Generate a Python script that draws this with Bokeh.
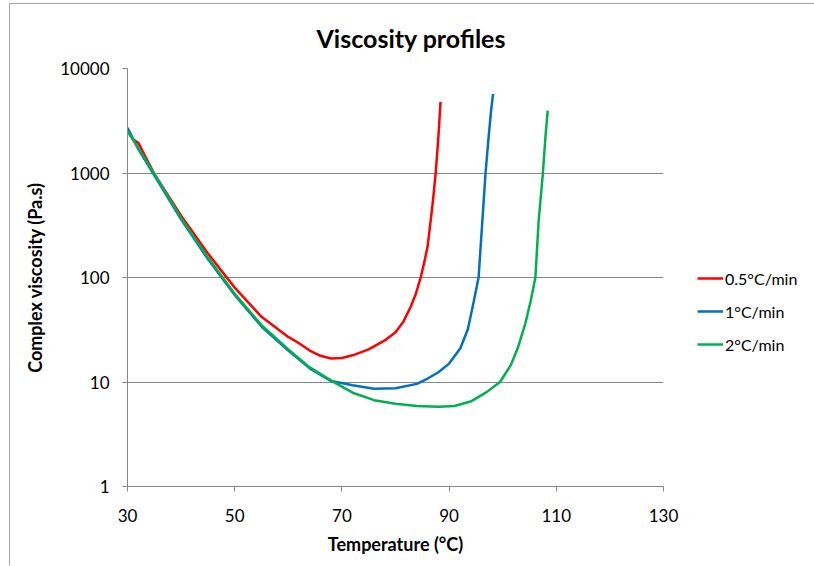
from bokeh.plotting import figure
from bokeh.models import FixedTicker, PrintfTickFormatter, Legend, LegendItem, Range1d
from bokeh.embed import file_html
from bokeh.resources import INLINE

# --- data ---
t_05 = [31, 32, 33, 35, 40, 45, 50, 55, 60, 62, 64, 66, 68, 70, 72, 75, 78, 80, 81.5, 82.8, 83.8, 84.7, 85.5, 86.0, 86.5, 87.0, 87.5, 88.0, 88.4]
v_05 = [2100, 1950, 1550, 980, 390, 170, 80, 42, 27, 23.5, 20, 17.8, 16.8, 17.0, 18.0, 20.5, 25, 30, 38, 52, 70, 100, 150, 200, 330, 550, 1000, 2200, 4800]

t_1 = [30, 32, 35, 40, 45, 50, 55, 60, 64, 68, 72, 76, 80, 84, 86, 88, 90, 92.1, 93.5, 94.6, 95.5, 96.2, 96.8, 97.3, 97.8, 98.2]
v_1 = [2700, 1700, 950, 360, 150, 68, 34, 20, 13.5, 10.2, 9.3, 8.6, 8.7, 9.6, 10.8, 12.4, 15, 21, 32, 59, 100, 345, 1000, 2000, 3800, 5700]

t_2 = [30, 32, 35, 40, 45, 50, 55, 60, 64, 68, 72, 76, 80, 84, 88, 91, 94, 97, 99.5, 101.5, 102.8, 104.2, 105.2, 106.1, 106.7, 107.5, 108.0, 108.4]
v_2 = [2500, 1750, 980, 370, 155, 70, 35, 20.5, 13.8, 10.3, 7.9, 6.7, 6.2, 5.9, 5.8, 5.9, 6.5, 8.0, 10, 14.5, 21, 36, 59, 100, 345, 1000, 2300, 3950]

series_names = ["0.5°C/min", "1°C/min", "2°C/min"]
series_colors = ["#FF0000", "#0070C0", "#00B050"]
x_ticks = [30, 50, 70, 90, 110, 130]
y_ticks = [1, 10, 100, 1000, 10000]

FONT = "Lato"

p = figure(frame_width=536, frame_height=418, y_axis_type="log",
           x_range=Range1d(30, 130), y_range=Range1d(1, 10000),
           output_backend="svg", toolbar_location=None,
           min_border_left=117, min_border_right=147,
           min_border_top=63, min_border_bottom=79)
p.styles = {"margin-left": "9px", "margin-top": "3px",
            "border-left": "1px solid #a6a6a6", "border-top": "1px solid #a6a6a6"}

p.title.text = "Viscosity profiles"
p.title.align = "left"
p.title.text_font = FONT
p.title.text_font_size = "25px"
p.title.text_font_style = "bold"
p.title.text_color = "#000000"
p.title.offset = 189
p.title.standoff = 32

p.outline_line_color = None
p.xgrid.grid_line_color = None
p.ygrid.grid_line_color = "#868686"
p.ygrid.grid_line_width = 1

p.xaxis.ticker = FixedTicker(ticks=x_ticks)
p.yaxis.ticker = FixedTicker(ticks=y_ticks)
p.yaxis.formatter = PrintfTickFormatter(format="%d")

for ax in (p.xaxis, p.yaxis):
    ax.axis_line_color = "#868686"
    ax.major_tick_line_color = "#868686"
    ax.minor_tick_line_color = None
    ax.major_tick_in = 0
    ax.major_tick_out = 5
    ax.major_label_text_font = FONT
    ax.major_label_text_font_size = "17px"
    ax.major_label_text_color = "#000000"
    ax.axis_label_text_font = FONT
    ax.axis_label_text_font_size = "18px"
    ax.axis_label_text_font_style = "bold"
    ax.axis_label_text_color = "#000000"

p.xaxis.axis_label = "Temperature (°C)"
p.yaxis.axis_label = "Complex viscosity (Pa.s)"
p.xaxis.major_label_standoff = 17
p.yaxis.major_label_standoff = 13
p.xaxis.axis_label_standoff = 8
p.yaxis.axis_label_standoff = 11

renderers = []
for t, v, c in zip([t_05, t_1, t_2], [v_05, v_1, v_2], series_colors):
    r = p.line(t, v, line_color=c, line_width=2.5, line_join="round")
    renderers.append(r)

legend = Legend(items=[LegendItem(label=n, renderers=[r]) for n, r in zip(series_names, renderers)],
                location=(34, 132))
legend.label_text_font = FONT
legend.label_text_font_size = "16px"
legend.label_text_color = "#000000"
legend.glyph_width = 26
legend.glyph_height = 20
legend.label_standoff = 2
legend.spacing = 13
legend.padding = 0
legend.margin = 0
legend.border_line_color = None
legend.background_fill_alpha = 0
p.add_layout(legend, "right")

open("out.html", "w").write(file_html(p, INLINE))
